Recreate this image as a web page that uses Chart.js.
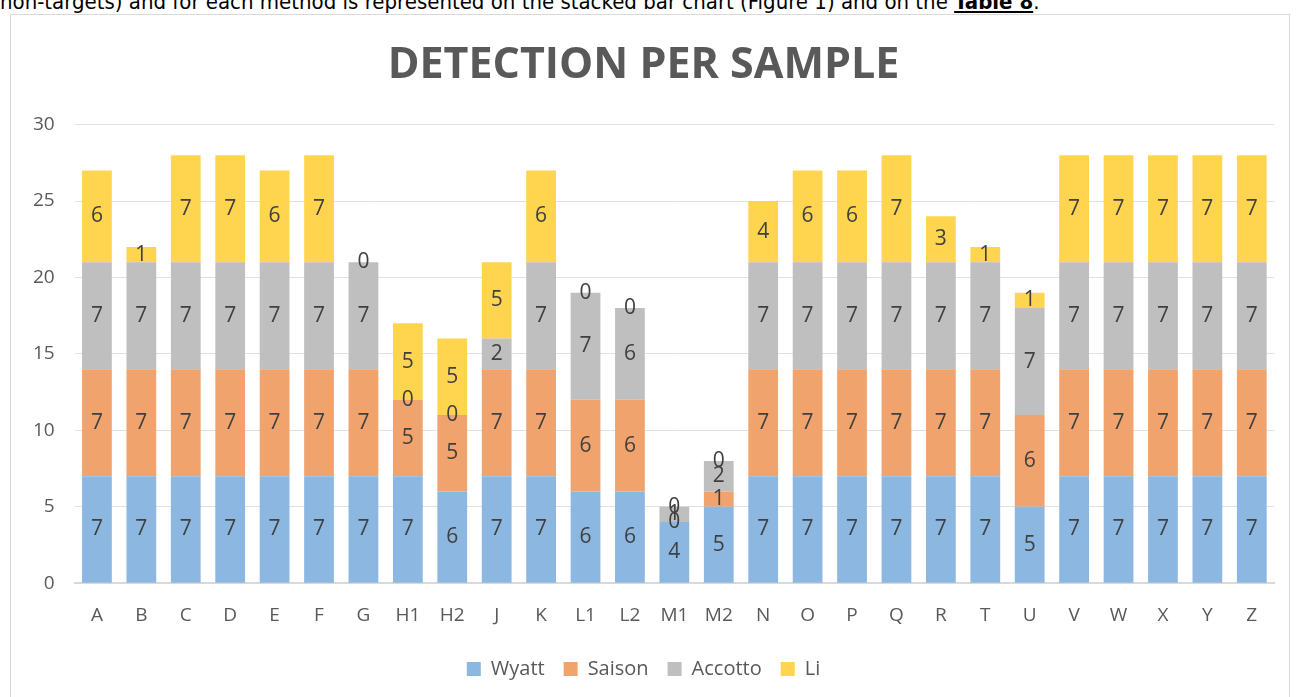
<!DOCTYPE html>
<html>
<head>
<meta charset="utf-8">
<script src="https://cdn.jsdelivr.net/npm/chart.js@4.4.0/dist/chart.umd.min.js"></script>
<style>
	body { margin: 0; background: #fff; width: 1299px; height: 697px; overflow: hidden; position: relative; }
	#docText { position: absolute; left: 0; top: -11px; font-family: "Liberation Sans Narrow", "DejaVu Sans Condensed", sans-serif; font-size: 22px; color: #000; white-space: nowrap; }
	#docText b { text-decoration: underline; }
	#box { position: absolute; left: 10px; top: 14px; width: 1280px; height: 700px; border: 1px solid #d9d9d9; box-sizing: border-box; }
	#wrap { position: absolute; left: 0; top: 0; width: 1278px; height: 683px; }
</style>
</head>
<body>
<div id="docText">non-targets) and for each method is represented on the stacked bar chart (Figure 1) and on the <b>Table 8</b>.</div>
<div id="box"><div id="wrap"><canvas id="columnChart"></canvas></div></div>
<script>
// Danh sách mẫu
const samples = ['A', 'B', 'C', 'D', 'E', 'F', 'G', 'H1', 'H2', 'J', 'K', 'L1', 'L2', 'M1', 'M2', 'N', 'O', 'P', 'Q', 'R', 'T', 'U', 'V', 'W', 'X', 'Y', 'Z'];
// Số lượng phát hiện theo từng phương pháp
const wyatt   = [7, 7, 7, 7, 7, 7, 7, 7, 6, 7, 7, 6, 6, 4, 5, 7, 7, 7, 7, 7, 7, 5, 7, 7, 7, 7, 7];
const saison  = [7, 7, 7, 7, 7, 7, 7, 5, 5, 7, 7, 6, 6, 0, 1, 7, 7, 7, 7, 7, 7, 6, 7, 7, 7, 7, 7];
const accotto = [7, 7, 7, 7, 7, 7, 7, 0, 0, 2, 7, 7, 6, 1, 2, 7, 7, 7, 7, 7, 7, 7, 7, 7, 7, 7, 7];
const li      = [6, 1, 7, 7, 6, 7, 0, 5, 5, 5, 6, 0, 0, 0, 0, 4, 6, 6, 7, 3, 1, 1, 7, 7, 7, 7, 7];
const yTicks  = [0, 5, 10, 15, 20, 25, 30];

const textColor = '#595959';
const fontFamily = '"Open Sans", sans-serif';

// Plugin vẽ nhãn giá trị ở giữa mỗi đoạn cột
const segmentLabels = {
	id: 'segmentLabels',
	afterDatasetsDraw(chart) {
		const ctx = chart.ctx;
		ctx.save();
		ctx.font = '21px ' + fontFamily;
		ctx.fillStyle = '#404040';
		ctx.textAlign = 'center';
		ctx.textBaseline = 'middle';
		chart.data.datasets.forEach((ds, i) => {
			const meta = chart.getDatasetMeta(i);
			meta.data.forEach((bar, j) => {
				const v = ds.data[j];
				const p = bar.getProps(['x', 'y', 'base'], true);
				ctx.fillText(String(v), p.x, (p.y + p.base) / 2);
			});
		});
		ctx.restore();
	}
};

const ctx = document.getElementById('columnChart').getContext('2d');
const columnChart = new Chart(ctx, {
	type: 'bar',
	data: {
		labels: samples,
		datasets: [
			{ label: 'Wyatt', data: wyatt, backgroundColor: '#8cb7e0' },
			{ label: 'Saison', data: saison, backgroundColor: '#f0a36d' },
			{ label: 'Accotto', data: accotto, backgroundColor: '#bfbfbf' },
			{ label: 'Li', data: li, backgroundColor: '#ffd44f' }
		]
	},
	options: {
		responsive: true,
		maintainAspectRatio: false,
		animation: false,
		datasets: {
			bar: { barPercentage: 1, categoryPercentage: 0.67, borderWidth: 0 }
		},
		layout: { padding: { left: 2, right: 15, top: 10, bottom: 9 } },
		plugins: {
			title: {
				display: true,
				text: 'DETECTION PER SAMPLE',
				color: textColor,
				font: { family: fontFamily, size: 43, weight: 'bold' },
				padding: { top: 15, bottom: 33 }
			},
			legend: {
				position: 'bottom',
				labels: {
					color: textColor,
					font: { family: fontFamily, size: 20 },
					boxWidth: 14,
					boxHeight: 14,
					padding: 19
				}
			},
			tooltip: { enabled: false }
		},
		scales: {
			x: {
				stacked: true,
				grid: { display: false },
				border: { color: '#d9d9d9', width: 2 },
				ticks: { color: textColor, font: { family: fontFamily, size: 19 }, padding: 13 }
			},
			y: {
				stacked: true,
				min: 0,
				max: 30,
				afterBuildTicks: axis => { axis.ticks = yTicks.map(v => ({ value: v })); },
				grid: { color: '#e0e0e0', lineWidth: 1, drawTicks: false },
				border: { display: false },
				ticks: { color: textColor, font: { family: fontFamily, size: 19 }, padding: 20 }
			}
		}
	},
	plugins: [segmentLabels]
});
</script>
</body>
</html>
